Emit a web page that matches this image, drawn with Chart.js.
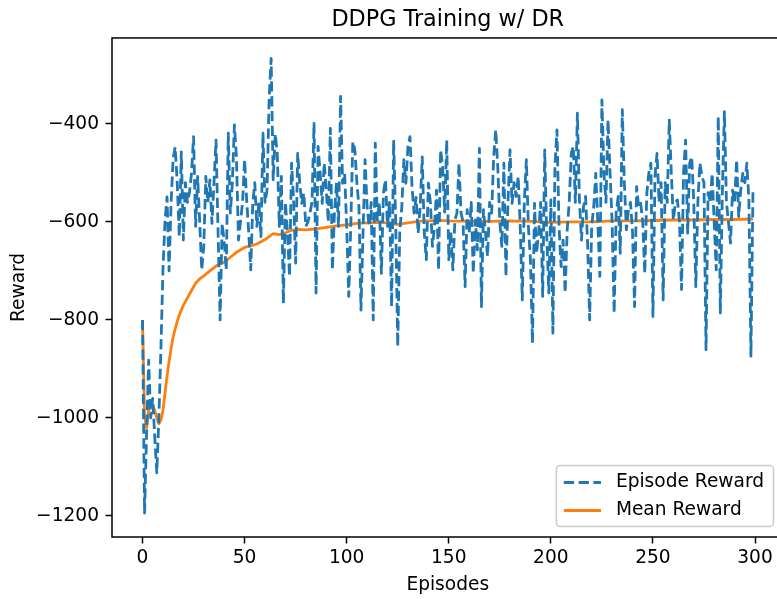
<!DOCTYPE html>
<html>
<head>
<meta charset="utf-8">
<script src="https://cdn.jsdelivr.net/npm/chart.js@4.4.1/dist/chart.umd.min.js"></script>
<style>
  html, body { margin: 0; padding: 0; background: #fff; overflow: hidden; }
  #wrap { width: 785px; height: 599px; }
</style>
</head>
<body>
<div id="wrap"><canvas id="chart" width="785" height="599"></canvas></div>
<script>
// reward per episode (episode number = index)
const episodeReward = [
  -800, -1194, -1030, -882, -1000, -960, -1040, -1112, -1000, -860,
  -698, -600, -549, -700, -560, -470, -447, -520, -630, -457,
  -637, -520, -560, -540, -500, -426, -609, -507, -600, -698,
  -650, -507, -560, -514, -603, -520, -433, -620, -800, -603,
  -640, -698, -419, -582, -520, -402, -467, -637, -600, -560,
  -473, -555, -620, -698, -562, -520, -609, -560, -630, -419,
  -560, -535, -351, -266, -514, -420, -460, -609, -507, -766,
  -560, -623, -711, -480, -555, -684, -460, -520, -562, -541,
  -609, -600, -582, -560, -399, -745, -446, -500, -562, -480,
  -535, -600, -409, -698, -582, -520, -609, -344, -521, -501,
  -609, -752, -609, -436, -453, -520, -569, -780, -623, -473,
  -569, -609, -560, -800, -439, -596, -560, -705, -541, -514,
  -609, -560, -773, -433, -600, -854, -620, -569, -473, -521,
  -446, -426, -528, -582, -550, -623, -569, -467, -623, -677,
  -521, -560, -650, -609, -535, -698, -453, -487, -580, -433,
  -677, -620, -698, -596, -582, -480, -582, -600, -732, -575,
  -623, -560, -705, -596, -657, -450, -773, -575, -623, -670,
  -560, -582, -467, -412, -487, -600, -650, -480, -711, -560,
  -453, -562, -520, -548, -507, -609, -759, -560, -473, -609,
  -677, -847, -562, -664, -623, -560, -752, -453, -630, -745,
  -555, -827, -487, -412, -609, -691, -637, -745, -616, -560,
  -460, -446, -560, -378, -555, -637, -569, -548, -643, -800,
  -609, -569, -501, -600, -711, -351, -500, -560, -392, -500,
  -600, -786, -580, -548, -664, -371, -520, -616, -575, -560,
  -620, -773, -528, -569, -562, -600, -705, -541, -500, -480,
  -793, -507, -460, -560, -520, -759, -520, -560, -392, -500,
  -596, -560, -555, -600, -738, -500, -433, -623, -480, -467,
  -560, -732, -560, -480, -507, -520, -861, -540, -560, -501,
  -600, -698, -385, -786, -540, -375, -560, -600, -643, -535,
  -560, -473, -589, -535, -501, -520, -480, -555, -874, -535
];

// mean reward
const meanEpisodes = [
  0, 1, 2, 3, 4, 5, 6, 7, 8, 9, 10, 11, 12, 13, 14, 15, 16, 17, 18, 19, 20,
  22, 24, 26, 28, 30, 33, 36, 38, 40, 43, 46,
  50, 53, 56, 60, 62, 64, 67, 70, 73, 76, 80,
  85, 90, 95, 100, 105, 110, 115, 120, 125, 130, 135, 140, 145, 150,
  160, 170, 180, 190, 200, 210, 220, 230, 240, 250, 260, 270, 280, 290, 299
];
const meanReward = [
  -800, -997, -1020, -985, -972, -975, -985, -1000, -1012, -1005, -985, -950, -915, -885, -858, -835, -818, -803, -790, -780, -770,
  -755, -740, -725, -716, -710, -700, -690, -686, -682, -672, -662,
  -652, -649, -645, -636, -630, -624, -626, -622, -617, -615, -616,
  -614, -611, -608, -606, -603, -602, -601, -602, -605, -602, -599, -598, -597, -598,
  -599, -599, -598, -599, -601, -600, -600, -598, -598, -597, -596, -596, -595, -595, -594
];

const xTicks = [0, 50, 100, 150, 200, 250, 300];
const yTicks = [-1200, -1000, -800, -600, -400];

const FS = 18.6;
Chart.defaults.font.family = 'DejaVu Sans';
Chart.defaults.color = '#000';

// black box around the plot area (all four spines)
const framePlugin = {
  id: 'frame',
  afterDraw(chart) {
    const { ctx, chartArea: a } = chart;
    ctx.save();
    ctx.strokeStyle = '#000';
    ctx.lineWidth = 1.5;
    ctx.strokeRect(a.left, a.top, a.right - a.left, a.bottom - a.top);
    ctx.restore();
  }
};

// legend box in the lower right corner, like matplotlib
const boxLegend = {
  id: 'boxLegend',
  afterDraw(chart) {
    const { ctx, chartArea: a } = chart;
    const sets = chart.data.datasets;
    ctx.save();
    ctx.font = FS + 'px "DejaVu Sans"';
    let textW = 0;
    sets.forEach(d => { textW = Math.max(textW, ctx.measureText(d.label).width); });
    const pad = 0.4 * FS, handle = 2 * FS, gap = 0.8 * FS;
    const w = pad * 2 + handle + gap + textW + 2;
    const h = 61;
    const right = a.right - 10, bottom = a.bottom - 10.5;
    const left = right - w, top = bottom - h;

    ctx.beginPath();
    ctx.roundRect(left, top, w, h, 3.7);
    ctx.fillStyle = 'rgba(255,255,255,0.8)';
    ctx.fill();
    ctx.strokeStyle = '#cccccc';
    ctx.lineWidth = 1.5;
    ctx.stroke();

    sets.forEach((d, i) => {
      const y = top + 17 + i * 28;
      ctx.beginPath();
      ctx.setLineDash(d.borderDash || []);
      ctx.strokeStyle = d.borderColor;
      ctx.lineWidth = d.borderWidth;
      ctx.moveTo(left + pad, y);
      ctx.lineTo(left + pad + handle, y);
      ctx.stroke();
      ctx.setLineDash([]);
      ctx.fillStyle = '#000';
      ctx.textBaseline = 'middle';
      ctx.fillText(d.label, left + pad + handle + gap, y);
    });
    ctx.restore();
  }
};

const ctx = document.getElementById('chart').getContext('2d');
new Chart(ctx, {
  type: 'line',
  data: {
    datasets: [{
      label: 'Episode Reward',
      data: episodeReward.map((v, i) => ({ x: i, y: v })),
      borderColor: '#1f77b4',
      borderWidth: 2.8,
      borderDash: [10.3, 4.5],
      borderJoinStyle: 'round',
      pointRadius: 0,
      tension: 0,
      fill: false
    }, {
      label: 'Mean Reward',
      data: meanEpisodes.map((e, i) => ({ x: e, y: meanReward[i] })),
      borderColor: '#ff7f0e',
      borderWidth: 2.8,
      borderJoinStyle: 'round',
      pointRadius: 0,
      tension: 0,
      fill: false
    }]
  },
  options: {
    responsive: false,
    animation: false,
    devicePixelRatio: 1,
    layout: { padding: { left: 0, right: 1.5, top: 0, bottom: 0 } },
    plugins: {
      legend: { display: false },
      tooltip: { enabled: false },
      title: {
        display: true,
        text: 'DDPG Training w/ DR',
        fullSize: false,
        color: '#000',
        font: { size: 22.3, weight: 'normal' },
        padding: { top: 6.7, bottom: 4.5 }
      }
    },
    scales: {
      x: {
        type: 'linear',
        min: -14.95,
        max: 313.95,
        afterFit(s) { s.height = 62; },
        afterBuildTicks(s) { s.ticks = xTicks.map(v => ({ value: v })); },
        ticks: { font: { size: FS }, padding: 3.3, maxRotation: 0, callback: v => String(v) },
        grid: { display: true, drawOnChartArea: false, tickLength: 6.5, tickColor: '#000', tickWidth: 1.5 },
        border: { display: false },
        title: { display: true, text: 'Episodes', font: { size: FS }, padding: { top: 0, bottom: 2.5 } }
      },
      y: {
        min: -1243,
        max: -224.5,
        afterFit(s) { s.width = 112; },
        afterBuildTicks(s) { s.ticks = yTicks.map(v => ({ value: v })); },
        ticks: { font: { size: FS }, padding: 6.5, callback: v => String(v).replace('-', '\u2212') },
        grid: { display: true, drawOnChartArea: false, tickLength: 6.5, tickColor: '#000', tickWidth: 1.5 },
        border: { display: false },
        title: { display: true, text: 'Reward', font: { size: FS }, padding: { top: 8, bottom: 0 } }
      }
    }
  },
  plugins: [framePlugin, boxLegend]
});
</script>
</body>
</html>
